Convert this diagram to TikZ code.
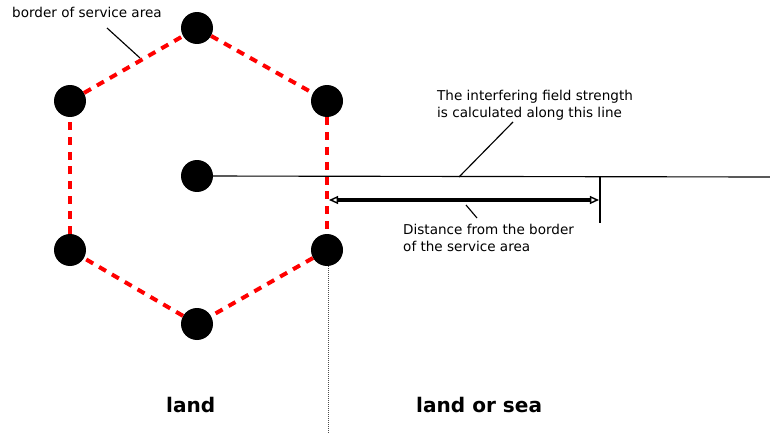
\documentclass[tikz,border=0pt]{standalone}
\usepackage{fontspec}
\setmainfont{DejaVu Sans}
\usetikzlibrary{arrows.meta}
\tikzset{
  site/.style   ={circle, fill=black, inner sep=0pt, minimum size=1.12cm},
  border/.style ={draw=red, line width=1.4mm, dash pattern=on 2.8mm off 2.4mm},
  lead/.style   ={draw=black, line width=0.4mm},
  fl/.style     ={{Triangle[open,length=3.2mm,width=2.8mm,line width=0.5mm,fill=white]}-{Triangle[open,length=3.2mm,width=2.8mm,line width=0.5mm,fill=white]},
                  line width=1.4mm},
  note/.style   ={font=\fontsize{13.5}{16.5}\selectfont, align=left, inner sep=0pt, anchor=base west},
  zone/.style   ={font=\fontsize{20}{24}\selectfont\bfseries, inner sep=0pt, anchor=base west},
}

\begin{document}
\begin{tikzpicture}[x=0.035cm, y=-0.035cm]
  \useasboundingbox (0,0) rectangle (770,433);

  % ---- transmitter sites ----
  \node[site] (top)  at (197,28)  {};
  \node[site] (ul)   at (70,101)  {};
  \node[site] (ur)   at (327,101) {};
  \node[site] (mid)  at (197,176) {};
  \node[site] (ll)   at (70,250)  {};
  \node[site] (lr)   at (327,250) {};
  \node[site] (bot)  at (197,324) {};

  % ---- border of the service area ----
  \draw[border] (top)--(ur);
  \draw[border] (ur)--(lr);
  \draw[border] (lr)--(bot);
  \draw[border] (bot)--(ll);
  \draw[border] (ll)--(ul);
  \draw[border] (ul)--(top);

  % ---- calculation line and distance ----
  \coordinate (lineEnd) at (770,177);
  \coordinate (tickT) at (600,177);
  \coordinate (tickB) at (600,223);
  \coordinate (dL) at (329,200);
  \coordinate (dR) at (599,200);
  \draw[lead] (mid.center)--(lineEnd);
  \draw[lead] (tickT)--(tickB);
  \draw[fl] (dL)--(dR);
  \coordinate (coastT) at (328,266);
  \coordinate (coastB) at (328,433);
  \draw[black!70, densely dotted, line width=0.35mm] (coastT)--(coastB);

  % ---- labels (base = last line) ----
  \node[note] (bordertxt) at (12,18) {border of service area};
  \node[note] (linetxt) at (437,117) {The interfering field strength\\is calculated along this line};
  \node[note] (disttxt) at (403,251) {Distance from the border\\of the service area};
  \node[zone] (land) at (166,412) {land};
  \node[zone] (landsea) at (416,412) {land or sea};

  % ---- leaders ----
  \coordinate (bL1) at (107,28);  \coordinate (bL2) at (140,58);
  \coordinate (iL1) at (513,122); \coordinate (iL2) at (459,177);
  \coordinate (dL1) at (466,205); \coordinate (dL2) at (477,218);
  \draw[lead] (bL1)--(bL2);
  \draw[lead] (iL1)--(iL2);
  \draw[lead] (dL1)--(dL2);
\end{tikzpicture}
\end{document}
